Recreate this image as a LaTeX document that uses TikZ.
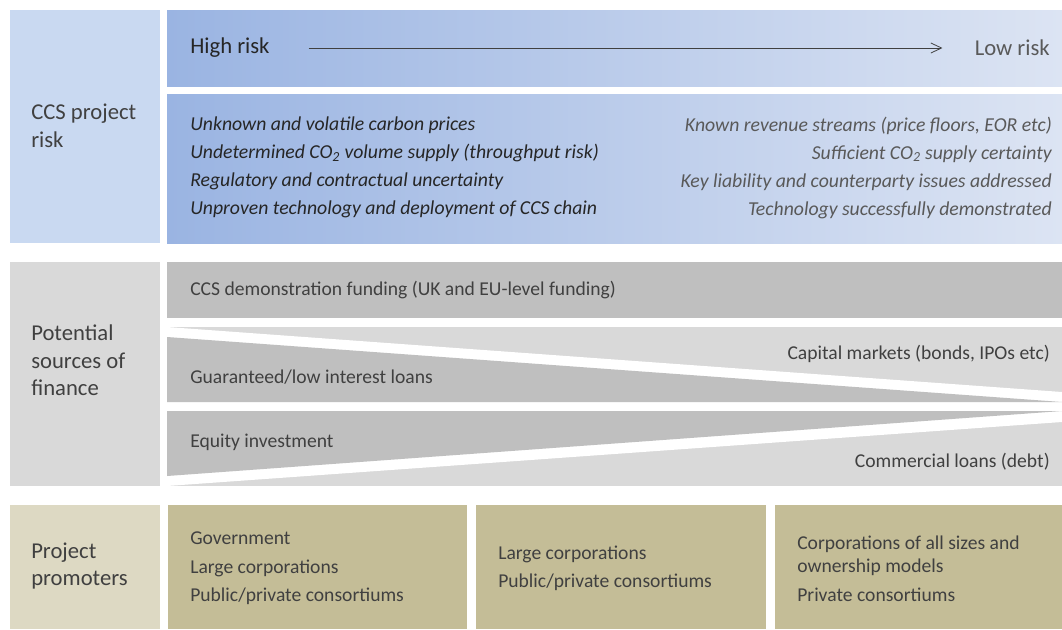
\documentclass[tikz,border=0pt]{standalone}
\usepackage{fontspec}
\setmainfont{Carlito}
\usetikzlibrary{positioning}
\usetikzlibrary{arrows.meta}
\definecolor{riskside}{HTML}{C9D9F1}
\definecolor{riskdark}{HTML}{9AB4E2}
\definecolor{risklight}{HTML}{DCE4F3}
\definecolor{finside}{HTML}{D9D9D9}
\definecolor{findark}{HTML}{BFBFBF}
\definecolor{finlight}{HTML}{D9D9D9}
\definecolor{promside}{HTML}{DDD9C3}
\definecolor{promdark}{HTML}{C4BD97}
\definecolor{txt}{HTML}{404040}
\definecolor{txtdark}{HTML}{262626}
\definecolor{txtgray}{HTML}{595959}

\begin{document}
\begin{tikzpicture}[x=0.75pt,y=-0.75pt,
    sidetext/.style={anchor=west,align=left,inner sep=0pt,text=txt,font=\fontsize{17}{20.6}\selectfont},
    bodytext/.style={anchor=west,align=left,inner sep=0pt,text=txt,font=\fontsize{14.7}{21.4}\selectfont},
    bodyright/.style={bodytext,anchor=east,align=right},
    risktext/.style={inner sep=0pt,font=\fontsize{17}{20}\selectfont},
    riskitem/.style={inner sep=0pt,font=\itshape\fontsize{14.8}{21}\selectfont},
    riskshade/.style={left color=riskdark,right color=risklight}]
    \useasboundingbox (0,0) rectangle (1062,629);
    % left column
    \fill[riskside] (10,10) rectangle (160,243);
    \fill[finside] (10,262) rectangle (160,486);
    \fill[promside] (10,505) rectangle (160,629);
    % risk
    \shade[riskshade] (167,10) rectangle (1062,86);
    \shade[riskshade] (167,94) rectangle (1062,243);
    % finance
    \fill[findark] (167,262) rectangle (1062,318);
    \fill[finlight] (167,327) rectangle (1062,486);
    \fill[white] (167,327) -- (1062,392) -- (1062,422) -- (167,486) -- cycle;
    \fill[findark] (167,337) -- (1062,402) -- (167,402) -- cycle;
    \fill[findark] (167,411) -- (1062,411) -- (167,476) -- cycle;
    % promoters
    \fill[promdark] (168,505) rectangle (467,629);
    \fill[promdark] (476,505) rectangle (766,629);
    \fill[promdark] (775,505) rectangle (1062,629);

    \node[sidetext] (riskhead) at (31,126) {CCS project\\risk};
    \node[sidetext] (finhead) at (31,360.5) {Potential\\sources of\\finance};
    \node[sidetext] (promhead) at (31,566) {Project\\promoters};

    \node[risktext,anchor=west,text=txtdark] (hi) at (190,48) {High risk};
    \node[risktext,anchor=east,text=txtgray] (lo) at (1050,48) {Low risk};
    \draw[-{Straight Barb[length=8pt,width=7.5pt]},draw=txt,line width=0.6pt,
        shorten <=29pt,shorten >=24pt] (hi.east) -- (lo.west);

    \node[riskitem,anchor=west,align=left,text=txtdark] (unproven) at (190,167.5)
        {Unknown and volatile carbon prices\\
         Undetermined CO\textsubscript{2} volume supply (throughput risk)\\
         Regulatory and contractual uncertainty\\
         Unproven technology and deployment of CCS chain};
    \node[riskitem,anchor=east,align=right,text=txtgray] (proven) at (1052,167.5)
        {Known revenue streams (price floors, EOR etc)\\
         Sufficient CO\textsubscript{2} supply certainty\\
         Key liability and counterparty issues addressed\\
         Technology successfully demonstrated};

    \node[bodytext] (demo) at (190,290) {CCS demonstration funding (UK and EU-level funding)};
    \node[bodyright] (capital) at (1050,354) {Capital markets (bonds, IPOs etc)};
    \node[bodytext] (loans) at (190,377) {Guaranteed/low interest loans};
    \node[bodytext] (equity) at (190,442) {Equity investment};
    \node[bodyright] (debt) at (1050,462) {Commercial loans (debt)};

    \node[bodytext] (promA) at (190,568.5) {Government\\Large corporations\\Public/private consortiums};
    \node[bodytext] (promB) at (498,568.5) {Large corporations\\Public/private consortiums};
    \node[bodytext,font=\fontsize{14.7}{17.25}\selectfont] (promC) at (797,569)
        {Corporations of all sizes and\\ownership models\\[4.5pt]Private consortiums};
\end{tikzpicture}
\end{document}
